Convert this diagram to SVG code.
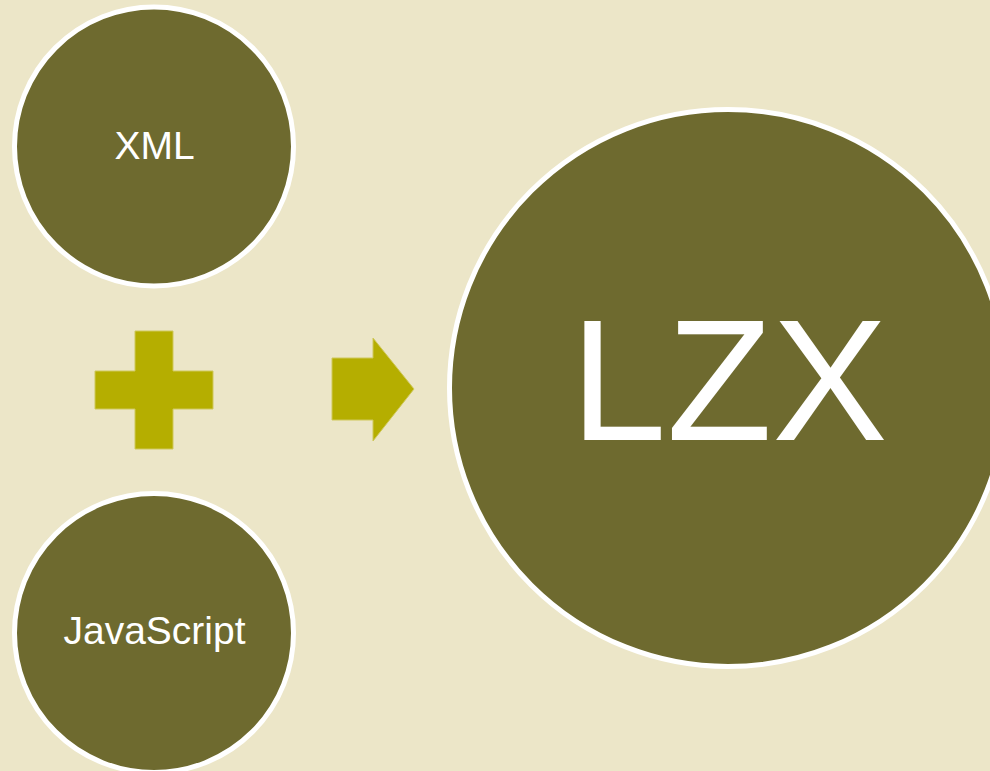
<svg xmlns="http://www.w3.org/2000/svg" width="990" height="771" viewBox="0 0 990 771">
<style>
.node{fill:#6E6A2F;stroke:#FFFFFF;stroke-width:5}
.lbl{fill:#FFFFFF;font-family:"Liberation Sans",Arial,sans-serif;text-anchor:middle}
.sym{fill:#B5AE00;stroke:#CFC85A;stroke-width:1}
</style>
<rect x="0" y="0" width="990" height="771" fill="#ECE6C8"/>
<g id="xml">
<circle class="node" cx="154" cy="146.5" r="139.5"/>
<text class="lbl" x="154.5" y="159" font-size="39">XML</text>
</g>
<g id="javascript">
<circle class="node" cx="154" cy="633" r="139.5"/>
<text class="lbl" x="154.5" y="644" font-size="39">JavaScript</text>
</g>
<g id="lzx">
<circle class="node" cx="728" cy="388" r="278.5"/>
<text class="lbl" x="729" y="440" font-size="173">LZX</text>
</g>
<g id="connectors">
<path id="plus" class="sym" d="M135,331 H173 V371 H213 V409 H173 V449 H135 V409 H95 V371 H135 Z"/>
<path id="arrow" class="sym" d="M332,358 H373 V338 L414,389 L373,441 V420 H332 Z"/>
</g>
</svg>
